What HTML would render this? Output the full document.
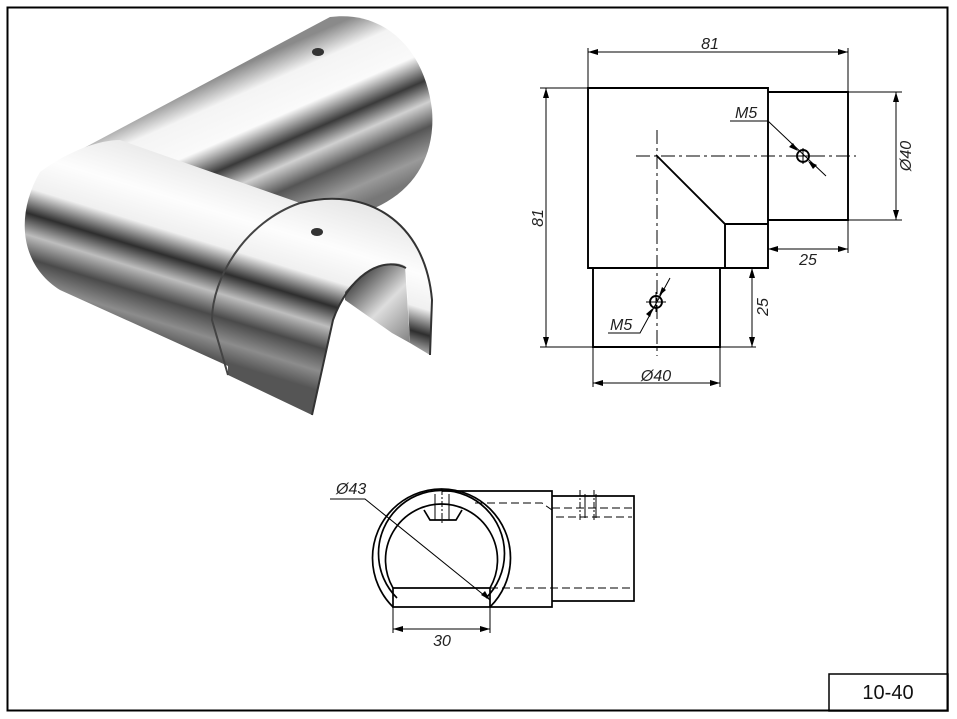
<!DOCTYPE html>
<html><head><meta charset="utf-8"><style>
html,body{margin:0;padding:0;background:#fff;}
svg{display:block;}
text{font-family:"Liberation Sans",sans-serif;}
.d{font-style:italic;font-size:16px;fill:#222;}
</style></head><body>
<svg width="957" height="719" viewBox="0 0 957 719" xmlns="http://www.w3.org/2000/svg">
<defs>
<linearGradient id="gb" gradientUnits="userSpaceOnUse" x1="300" y1="40" x2="370" y2="200">
<stop offset="0" stop-color="#8a8a8a"/><stop offset="0.15" stop-color="#f4f4f4"/><stop offset="0.35" stop-color="#fafafa"/><stop offset="0.5" stop-color="#3a3a3a"/><stop offset="0.62" stop-color="#d0d0d0"/><stop offset="0.75" stop-color="#555"/><stop offset="0.9" stop-color="#9a9a9a"/><stop offset="1" stop-color="#777"/>
</linearGradient>
<linearGradient id="gf" gradientUnits="userSpaceOnUse" x1="175" y1="150" x2="120" y2="330">
<stop offset="0" stop-color="#e8e8e8"/><stop offset="0.25" stop-color="#fdfdfd"/><stop offset="0.42" stop-color="#f0f0f0"/><stop offset="0.55" stop-color="#2e2e2e"/><stop offset="0.66" stop-color="#bdbdbd"/><stop offset="0.78" stop-color="#4a4a4a"/><stop offset="0.9" stop-color="#8c8c8c"/><stop offset="1" stop-color="#555"/>
</linearGradient>
<linearGradient id="gi" gradientUnits="userSpaceOnUse" x1="350" y1="270" x2="420" y2="340">
<stop offset="0" stop-color="#222"/><stop offset="0.5" stop-color="#ddd"/><stop offset="1" stop-color="#777"/>
</linearGradient>
</defs>
<rect x="7.5" y="7.5" width="940" height="703" fill="none" stroke="#000" stroke-width="2"/>
<rect x="829" y="674" width="119" height="37" fill="none" stroke="#000" stroke-width="1.5"/>
<text x="888" y="699" font-size="20" text-anchor="middle" fill="#111">10-40</text>

<path d="M80 150 L330 17 C385 10 425 50 432 110 C436 160 410 200 355 215 L250 200 Z" fill="url(#gb)"/>
<path d="M40 172 C70 150 100 140 120 140 L300 203 C365 186 425 220 432 300 L430 355 L410 343 L406 268 C380 255 348 278 333 320 L312 415 L228 375 L228 366 L60 290 C20 265 15 215 40 172 Z" fill="url(#gf)"/>
<path d="M345 292 C365 268 390 258 405 266 L410 343 L392 333 L345 300 Z" fill="url(#gi)"/>
<path d="M300 203 C245 222 212 278 212 320 L228 375" fill="none" stroke="#444" stroke-width="2"/>
<path d="M300 203 C365 186 425 220 432 300 L430 355" fill="none" stroke="#333" stroke-width="2"/>
<path d="M406 268 C380 255 348 278 333 320 L312 415" fill="none" stroke="#333" stroke-width="2"/>
<ellipse cx="318" cy="52" rx="6" ry="4" fill="#333"/>
<ellipse cx="317" cy="232" rx="6" ry="4" fill="#333"/>

<g stroke="#000" fill="none" stroke-width="1.9">
<path d="M588 88 H768 V268 H588 Z"/>
<path d="M768 92 H848 V220 H768"/>
<path d="M656 155 L725 224 H768 M725 224 V268"/>
<path d="M593 268 V347 H720 V268"/>
<circle cx="803" cy="156" r="6"/>
<circle cx="656" cy="302" r="6"/>
</g>
<g stroke="#000" fill="none" stroke-width="1">
<path d="M636 156 H856" stroke-dasharray="14,4,3,4"/>
<path d="M657 130 V356" stroke-dasharray="14,4,3,4"/>
<path d="M795 156 H811 M803 148 V164 M646 302 H666 M656 292 V312"/>
<path d="M588 88 V48 M848 92 V48 M588 52 H848"/>
<path d="M588 88 H540 M593 347 H540 M546 88 V347"/>
<path d="M848 92 H902 M848 220 H902 M896 92 V220"/>
<path d="M768 220 V253 M848 220 V253 M768 249 H848"/>
<path d="M720 268 H756 M720 347 H756 M752 268 V347"/>
<path d="M593 347 V387 M720 347 V387 M593 383 H720"/>
<path d="M730 121 H768 L826 176"/>
<path d="M608 333 H640 L670 278"/>
</g>
<g fill="#000">
<path d="M588 52 l10 -3 v6z M848 52 l-10 -3 v6z"/>
<path d="M546 88 l-3 10 h6z M546 347 l-3 -10 h6z"/>
<path d="M896 92 l-3 10 h6z M896 220 l-3 -10 h6z"/>
<path d="M768 249 l10 -3 v6z M848 249 l-10 -3 v6z"/>
<path d="M752 268 l-3 10 h6z M752 347 l-3 -10 h6z"/>
<path d="M593 383 l10 -3 v6z M720 383 l-10 -3 v6z"/>
<path d="M798 151 l-9 -4 l4 -4z M808 161 l9 4 l-4 4z"/>
<path d="M659 296 l3 -9 l4 3z M653 308 l-3 9 l-4 -3z"/>
</g>
<text class="d" x="710" y="49" text-anchor="middle">81</text>
<text class="d" transform="translate(543,218) rotate(-90)" text-anchor="middle">81</text>
<text class="d" transform="translate(911,156) rotate(-90)" text-anchor="middle">Ø40</text>
<text class="d" x="808" y="265" text-anchor="middle">25</text>
<text class="d" transform="translate(768,307) rotate(-90)" text-anchor="middle">25</text>
<text class="d" x="656" y="381" text-anchor="middle">Ø40</text>
<text class="d" x="735" y="118">M5</text>
<text class="d" x="610" y="330">M5</text>

<g stroke="#000" fill="none" stroke-width="1.7">
<path d="M393 607 A69 69 0 1 1 490 607"/>
<path d="M397 598 A63 63 0 1 1 486 598"/>
<path d="M393 588 A56 56 0 1 1 490 588"/>
<path d="M393 588 H490 V607 H393 Z"/>
<path d="M442 491 H552 V607 H490"/>
<path d="M552 496 H634 V601 H552"/>
<path d="M424 510 L430 520 H456 L462 510"/>
</g>
<g stroke="#000" fill="none" stroke-width="1">
<path d="M475 503 H542 L552 510 M552 508 H634 M556 517 H632 M490 588 H634" stroke-dasharray="8,4"/>
<path d="M442 489 V523 M580 490 V520 M594 490 V520" stroke-dasharray="6,2,2,2"/>
<path d="M435 494 V520 M449 494 V520 M585 494 V518 M596 494 V518"/>
<path d="M393 607 V633 M490 607 V633 M393 629 H490"/>
<path d="M330 499 H365 L490 600"/>
</g>
<g fill="#000">
<path d="M393 629 l10 -3 v6z M490 629 l-10 -3 v6z"/>
<path d="M490 600 l-9 -5 l4 -4z"/>
</g>
<text class="d" x="336" y="494">Ø43</text>
<text class="d" x="442" y="646" text-anchor="middle">30</text>
</svg>
</body></html>
